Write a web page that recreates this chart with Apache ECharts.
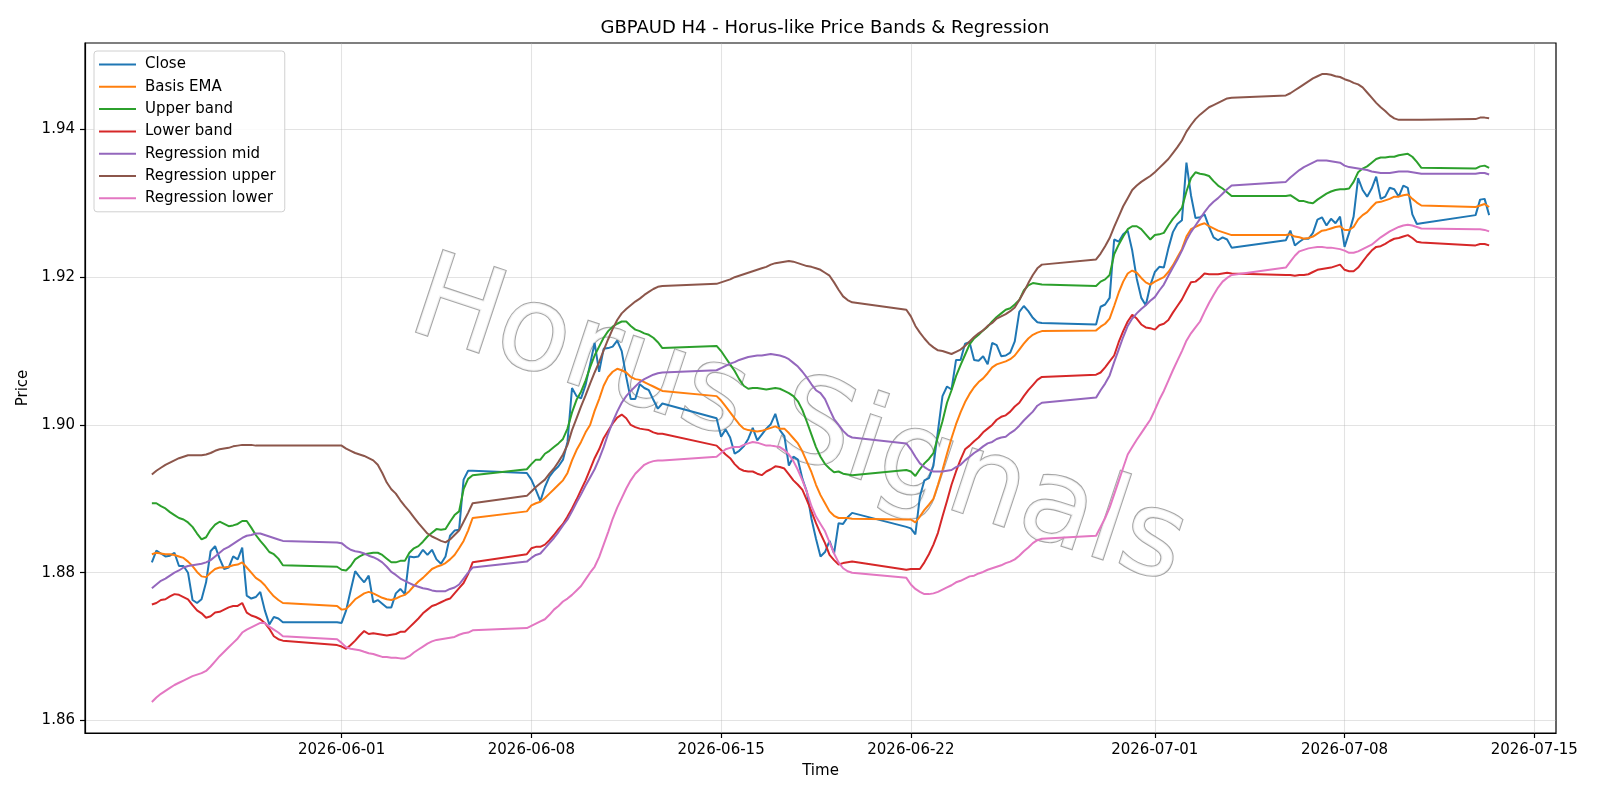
<!DOCTYPE html>
<html lang="en">
<head>
<meta charset="UTF-8">
<title>GBPAUD H4</title>
<style>
    html, body { margin: 0; padding: 0; background: #ffffff; }
    #chart_main { width: 1600px; height: 800px; }
</style>
</head>
<body>
<div id="chart_main"></div>
<script src="https://cdn.jsdelivr.net/npm/echarts@6/dist/echarts.min.js"></script>
<script>
// H4 bars: each week has a Sunday 20:00 bar (except the first one) then Mon 00:00 .. Fri 20:00
var weekMondays = ['2026-05-25', '2026-06-01', '2026-06-08', '2026-06-15', '2026-06-22', '2026-06-29', '2026-07-06', '2026-07-13'];
var barsPerWeek = [30, 30, 30, 30, 30, 30, 30, 3];

var tickDates = ['2026-06-01', '2026-06-08', '2026-06-15', '2026-06-22', '2026-07-01', '2026-07-08', '2026-07-15'];
var priceTicks = [1.86, 1.88, 1.90, 1.92, 1.94];

var close = [
    1.8814, 1.8830, 1.8826, 1.8822, 1.8823, 1.8827, 1.8809, 1.8809, 1.8800, 1.8763, 1.8759, 1.8764, 1.8787, 1.8829, 1.8836, 1.8819, 1.8805, 1.8807, 1.8822, 1.8818, 1.8834, 1.8769, 1.8765, 1.8767, 1.8774, 1.8749, 1.8730, 1.8740, 1.8738, 1.8733,
    1.8733, 1.8732, 1.8749, 1.8776, 1.8802, 1.8794, 1.8787, 1.8796, 1.8760, 1.8763, 1.8758, 1.8753, 1.8753, 1.8772, 1.8778, 1.8771, 1.8822, 1.8821, 1.8822, 1.8831, 1.8824, 1.8831, 1.8818, 1.8812, 1.8822, 1.8850, 1.8857, 1.8858, 1.8926, 1.8938, 1.8938,
    1.8935, 1.8926, 1.8912, 1.8897, 1.8916, 1.8930, 1.8938, 1.8944, 1.8953, 1.8977, 1.9050, 1.9039, 1.9036, 1.9054, 1.9082, 1.9111, 1.9072, 1.9103, 1.9104, 1.9106, 1.9114, 1.9100, 1.9065, 1.9035, 1.9035, 1.9055, 1.9050, 1.9047, 1.9034, 1.9022, 1.9029,
    1.9009, 1.8984, 1.8994, 1.8983, 1.8961, 1.8965, 1.8971, 1.8981, 1.8996, 1.8979, 1.8987, 1.8995, 1.9001, 1.9015, 1.8993, 1.8985, 1.8945, 1.8957, 1.8953, 1.8927, 1.8909, 1.8873, 1.8846, 1.8822, 1.8828, 1.8843, 1.8826, 1.8867, 1.8866, 1.8875, 1.8881,
    1.8862, 1.8860, 1.8852, 1.8903, 1.8925, 1.8928, 1.8945, 1.8992, 1.9039, 1.9052, 1.9048, 1.9088, 1.9088, 1.9110, 1.9112, 1.9088, 1.9087, 1.9093, 1.9082, 1.9111, 1.9108, 1.9093, 1.9094, 1.9098, 1.9113, 1.9153, 1.9161, 1.9154, 1.9145, 1.9139, 1.9138,
    1.9136, 1.9160, 1.9163, 1.9172, 1.9251, 1.9248, 1.9258, 1.9263, 1.9236, 1.9198, 1.9172, 1.9162, 1.9189, 1.9207, 1.9214, 1.9213, 1.9239, 1.9261, 1.9272, 1.9277, 1.9355, 1.9311, 1.9280, 1.9281, 1.9285, 1.9268, 1.9254, 1.9250, 1.9254, 1.9251, 1.9240,
    1.9250, 1.9263, 1.9243, 1.9248, 1.9252, 1.9252, 1.9260, 1.9278, 1.9281, 1.9270, 1.9279, 1.9273, 1.9282, 1.9241, 1.9260, 1.9282, 1.9334, 1.9318, 1.9309, 1.9320, 1.9336, 1.9306, 1.9309, 1.9321, 1.9319, 1.9309, 1.9324, 1.9321, 1.9285, 1.9272, 1.9273,
    1.9284, 1.9305, 1.9306, 1.9284
];

var basisEma = [
    1.8825, 1.8827, 1.8826, 1.8825, 1.8825, 1.8824, 1.8822, 1.8820, 1.8815, 1.8809, 1.8801, 1.8795, 1.8794, 1.8800, 1.8805, 1.8807, 1.8807, 1.8808, 1.8810, 1.8811, 1.8814, 1.8807, 1.8800, 1.8793, 1.8789, 1.8783, 1.8775, 1.8768, 1.8763, 1.8759,
    1.8755, 1.8750, 1.8751, 1.8757, 1.8764, 1.8768, 1.8772, 1.8774, 1.8772, 1.8769, 1.8766, 1.8764, 1.8763, 1.8765, 1.8768, 1.8770, 1.8775, 1.8782, 1.8788, 1.8793, 1.8799, 1.8805, 1.8808, 1.8810, 1.8813, 1.8818, 1.8824, 1.8833, 1.8843, 1.8857, 1.8874,
    1.8883, 1.8891, 1.8894, 1.8896, 1.8901, 1.8907, 1.8913, 1.8919, 1.8925, 1.8935, 1.8952, 1.8966, 1.8977, 1.8990, 1.9000, 1.9019, 1.9035, 1.9053, 1.9065, 1.9072, 1.9076, 1.9074, 1.9071, 1.9065, 1.9062, 1.9061, 1.9058, 1.9055, 1.9052, 1.9049, 1.9046,
    1.9039, 1.9033, 1.9025, 1.9017, 1.9009, 1.9001, 1.8995, 1.8993, 1.8992, 1.8991, 1.8992, 1.8994, 1.8996, 1.8998, 1.8995, 1.8995, 1.8989, 1.8982, 1.8975, 1.8964, 1.8950, 1.8936, 1.8919, 1.8905, 1.8894, 1.8883, 1.8877, 1.8874, 1.8874, 1.8874, 1.8873,
    1.8872, 1.8872, 1.8868, 1.8876, 1.8885, 1.8892, 1.8900, 1.8919, 1.8939, 1.8961, 1.8982, 1.9001, 1.9017, 1.9031, 1.9042, 1.9051, 1.9058, 1.9063, 1.9070, 1.9078, 1.9082, 1.9084, 1.9086, 1.9089, 1.9094, 1.9102, 1.9110, 1.9117, 1.9122, 1.9125, 1.9127,
    1.9128, 1.9133, 1.9137, 1.9144, 1.9161, 1.9179, 1.9194, 1.9205, 1.9209, 1.9206, 1.9199, 1.9193, 1.9190, 1.9194, 1.9197, 1.9200, 1.9207, 1.9216, 1.9227, 1.9238, 1.9255, 1.9265, 1.9268, 1.9271, 1.9273, 1.9269, 1.9266, 1.9263, 1.9261, 1.9259, 1.9257,
    1.9257, 1.9258, 1.9255, 1.9254, 1.9252, 1.9253, 1.9255, 1.9259, 1.9263, 1.9264, 1.9266, 1.9268, 1.9269, 1.9264, 1.9264, 1.9268, 1.9278, 1.9284, 1.9288, 1.9295, 1.9301, 1.9302, 1.9304, 1.9306, 1.9309, 1.9309, 1.9311, 1.9312, 1.9306, 1.9301, 1.9297,
    1.9295, 1.9297, 1.9299, 1.9295
];

var upperBand = [
    1.8894, 1.8894, 1.8890, 1.8887, 1.8882, 1.8878, 1.8874, 1.8872, 1.8868, 1.8862, 1.8853, 1.8845, 1.8848, 1.8858, 1.8865, 1.8869, 1.8866, 1.8863, 1.8864, 1.8866, 1.8870, 1.8870, 1.8861, 1.8851, 1.8843, 1.8836, 1.8828, 1.8825, 1.8819, 1.8810,
    1.8808, 1.8804, 1.8803, 1.8809, 1.8818, 1.8822, 1.8825, 1.8826, 1.8827, 1.8827, 1.8824, 1.8819, 1.8814, 1.8814, 1.8816, 1.8816, 1.8827, 1.8833, 1.8836, 1.8842, 1.8849, 1.8854, 1.8859, 1.8858, 1.8859, 1.8869, 1.8878, 1.8883, 1.8913, 1.8927, 1.8932,
    1.8940, 1.8947, 1.8953, 1.8953, 1.8961, 1.8965, 1.8970, 1.8975, 1.8981, 1.8995, 1.9017, 1.9034, 1.9045, 1.9060, 1.9078, 1.9094, 1.9106, 1.9118, 1.9127, 1.9133, 1.9137, 1.9140, 1.9140, 1.9134, 1.9129, 1.9127, 1.9124, 1.9122, 1.9118, 1.9112, 1.9104,
    1.9107, 1.9100, 1.9091, 1.9082, 1.9073, 1.9062, 1.9053, 1.9049, 1.9050, 1.9050, 1.9049, 1.9048, 1.9049, 1.9050, 1.9049, 1.9046, 1.9043, 1.9039, 1.9032, 1.9020, 1.9004, 1.8987, 1.8970, 1.8957, 1.8947, 1.8941, 1.8936, 1.8937, 1.8934, 1.8933, 1.8932,
    1.8939, 1.8937, 1.8931, 1.8940, 1.8948, 1.8954, 1.8962, 1.8984, 1.9005, 1.9030, 1.9047, 1.9066, 1.9081, 1.9095, 1.9109, 1.9117, 1.9122, 1.9128, 1.9133, 1.9140, 1.9146, 1.9151, 1.9156, 1.9158, 1.9163, 1.9169, 1.9182, 1.9189, 1.9192, 1.9191, 1.9190,
    1.9188, 1.9194, 1.9197, 1.9203, 1.9231, 1.9244, 1.9255, 1.9265, 1.9269, 1.9269, 1.9265, 1.9258, 1.9251, 1.9257, 1.9258, 1.9260, 1.9270, 1.9279, 1.9286, 1.9294, 1.9316, 1.9334, 1.9342, 1.9340, 1.9339, 1.9337, 1.9330, 1.9324, 1.9320, 1.9315, 1.9310,
    1.9310, 1.9311, 1.9307, 1.9303, 1.9303, 1.9301, 1.9300, 1.9305, 1.9309, 1.9313, 1.9316, 1.9318, 1.9319, 1.9319, 1.9320, 1.9329, 1.9342, 1.9347, 1.9350, 1.9355, 1.9360, 1.9362, 1.9362, 1.9363, 1.9363, 1.9365, 1.9366, 1.9367, 1.9363, 1.9356, 1.9348,
    1.9347, 1.9350, 1.9351, 1.9348
];

var lowerBand = [
    1.8757, 1.8759, 1.8763, 1.8764, 1.8768, 1.8771, 1.8770, 1.8767, 1.8764, 1.8756, 1.8749, 1.8745, 1.8739, 1.8741, 1.8746, 1.8747, 1.8750, 1.8753, 1.8755, 1.8755, 1.8759, 1.8746, 1.8742, 1.8740, 1.8737, 1.8732, 1.8724, 1.8714, 1.8710, 1.8708,
    1.8702, 1.8700, 1.8697, 1.8702, 1.8708, 1.8715, 1.8721, 1.8717, 1.8718, 1.8717, 1.8716, 1.8715, 1.8716, 1.8717, 1.8720, 1.8720, 1.8726, 1.8732, 1.8738, 1.8745, 1.8750, 1.8755, 1.8757, 1.8760, 1.8763, 1.8765, 1.8772, 1.8779, 1.8786, 1.8798, 1.8814,
    1.8825, 1.8833, 1.8835, 1.8835, 1.8838, 1.8844, 1.8851, 1.8859, 1.8866, 1.8876, 1.8887, 1.8899, 1.8912, 1.8925, 1.8940, 1.8955, 1.8967, 1.8982, 1.8992, 1.9002, 1.9010, 1.9014, 1.9009, 1.9000, 1.8997, 1.8995, 1.8994, 1.8993, 1.8990, 1.8988, 1.8988,
    1.8972, 1.8966, 1.8960, 1.8955, 1.8947, 1.8941, 1.8938, 1.8937, 1.8937, 1.8934, 1.8932, 1.8937, 1.8940, 1.8944, 1.8943, 1.8941, 1.8933, 1.8925, 1.8919, 1.8912, 1.8898, 1.8883, 1.8867, 1.8853, 1.8840, 1.8824, 1.8817, 1.8811, 1.8813, 1.8814, 1.8815,
    1.8804, 1.8805, 1.8805, 1.8805, 1.8814, 1.8825, 1.8838, 1.8854, 1.8876, 1.8897, 1.8919, 1.8937, 1.8953, 1.8967, 1.8972, 1.8978, 1.8983, 1.8990, 1.8995, 1.9000, 1.9007, 1.9011, 1.9013, 1.9018, 1.9025, 1.9030, 1.9039, 1.9047, 1.9054, 1.9061, 1.9065,
    1.9068, 1.9071, 1.9078, 1.9086, 1.9094, 1.9112, 1.9127, 1.9140, 1.9149, 1.9144, 1.9136, 1.9132, 1.9131, 1.9129, 1.9135, 1.9137, 1.9142, 1.9152, 1.9161, 1.9170, 1.9182, 1.9193, 1.9194, 1.9199, 1.9205, 1.9204, 1.9204, 1.9204, 1.9205, 1.9206, 1.9205,
    1.9203, 1.9203, 1.9202, 1.9203, 1.9203, 1.9204, 1.9207, 1.9210, 1.9211, 1.9212, 1.9213, 1.9215, 1.9217, 1.9210, 1.9208, 1.9208, 1.9213, 1.9221, 1.9229, 1.9236, 1.9241, 1.9242, 1.9245, 1.9249, 1.9252, 1.9253, 1.9255, 1.9257, 1.9253, 1.9248, 1.9247,
    1.9243, 1.9245, 1.9245, 1.9243
];

var regMid = [
    1.8779, 1.8784, 1.8789, 1.8792, 1.8796, 1.8800, 1.8803, 1.8807, 1.8809, 1.8810, 1.8811, 1.8812, 1.8814, 1.8817, 1.8822, 1.8827, 1.8832, 1.8835, 1.8839, 1.8843, 1.8847, 1.8850, 1.8851, 1.8853, 1.8853, 1.8851, 1.8849, 1.8847, 1.8845, 1.8843,
    1.8841, 1.8840, 1.8835, 1.8831, 1.8829, 1.8828, 1.8826, 1.8823, 1.8821, 1.8818, 1.8814, 1.8808, 1.8801, 1.8797, 1.8792, 1.8789, 1.8786, 1.8783, 1.8781, 1.8779, 1.8778, 1.8776, 1.8775, 1.8775, 1.8775, 1.8778, 1.8780, 1.8784, 1.8792, 1.8800, 1.8807,
    1.8815, 1.8820, 1.8824, 1.8826, 1.8833, 1.8840, 1.8847, 1.8855, 1.8864, 1.8872, 1.8883, 1.8895, 1.8906, 1.8918, 1.8929, 1.8940, 1.8954, 1.8970, 1.8988, 1.9004, 1.9018, 1.9030, 1.9039, 1.9046, 1.9052, 1.9058, 1.9062, 1.9065, 1.9068, 1.9070, 1.9071,
    1.9074, 1.9077, 1.9080, 1.9083, 1.9085, 1.9088, 1.9090, 1.9092, 1.9093, 1.9094, 1.9094, 1.9095, 1.9096, 1.9095, 1.9094, 1.9092, 1.9089, 1.9084, 1.9079, 1.9072, 1.9064, 1.9055, 1.9047, 1.9043, 1.9035, 1.9021, 1.9008, 1.9000, 1.8992, 1.8986, 1.8983,
    1.8975, 1.8967, 1.8957, 1.8948, 1.8943, 1.8939, 1.8937, 1.8937, 1.8937, 1.8938, 1.8939, 1.8943, 1.8946, 1.8952, 1.8957, 1.8962, 1.8966, 1.8971, 1.8975, 1.8977, 1.8981, 1.8983, 1.8984, 1.8989, 1.8993, 1.8999, 1.9006, 1.9012, 1.9018, 1.9026, 1.9030,
    1.9037, 1.9047, 1.9056, 1.9067, 1.9085, 1.9102, 1.9119, 1.9134, 1.9144, 1.9151, 1.9157, 1.9162, 1.9168, 1.9173, 1.9182, 1.9190, 1.9202, 1.9213, 1.9224, 1.9236, 1.9250, 1.9261, 1.9270, 1.9279, 1.9288, 1.9296, 1.9302, 1.9307, 1.9313, 1.9319, 1.9324,
    1.9329, 1.9335, 1.9340, 1.9345, 1.9349, 1.9352, 1.9355, 1.9358, 1.9358, 1.9358, 1.9357, 1.9356, 1.9355, 1.9351, 1.9349, 1.9348, 1.9347, 1.9346, 1.9345, 1.9343, 1.9342, 1.9341, 1.9341, 1.9341, 1.9342, 1.9343, 1.9343, 1.9343, 1.9342, 1.9341, 1.9340,
    1.9340, 1.9341, 1.9341, 1.9339
];

var regUpper = [
    1.8933, 1.8938, 1.8942, 1.8946, 1.8949, 1.8952, 1.8955, 1.8957, 1.8959, 1.8959, 1.8959, 1.8959, 1.8960, 1.8962, 1.8965, 1.8967, 1.8968, 1.8969, 1.8971, 1.8972, 1.8973, 1.8973, 1.8973, 1.8972, 1.8972, 1.8972, 1.8972, 1.8972, 1.8972, 1.8972,
    1.8972, 1.8972, 1.8968, 1.8965, 1.8962, 1.8960, 1.8958, 1.8955, 1.8952, 1.8946, 1.8935, 1.8922, 1.8913, 1.8907, 1.8898, 1.8890, 1.8883, 1.8875, 1.8867, 1.8860, 1.8853, 1.8849, 1.8846, 1.8843, 1.8841, 1.8845, 1.8851, 1.8857, 1.8869, 1.8881, 1.8894,
    1.8904, 1.8910, 1.8916, 1.8921, 1.8926, 1.8934, 1.8941, 1.8950, 1.8960, 1.8973, 1.8993, 1.9009, 1.9025, 1.9040, 1.9056, 1.9071, 1.9085, 1.9101, 1.9116, 1.9130, 1.9142, 1.9151, 1.9157, 1.9162, 1.9167, 1.9171, 1.9176, 1.9180, 1.9184, 1.9187, 1.9188,
    1.9191, 1.9193, 1.9195, 1.9197, 1.9200, 1.9202, 1.9204, 1.9206, 1.9208, 1.9210, 1.9212, 1.9214, 1.9217, 1.9219, 1.9220, 1.9221, 1.9222, 1.9221, 1.9219, 1.9217, 1.9215, 1.9214, 1.9212, 1.9210, 1.9206, 1.9202, 1.9193, 1.9183, 1.9174, 1.9169, 1.9166,
    1.9156, 1.9147, 1.9134, 1.9125, 1.9117, 1.9110, 1.9105, 1.9101, 1.9100, 1.9098, 1.9096, 1.9099, 1.9102, 1.9107, 1.9113, 1.9119, 1.9124, 1.9128, 1.9134, 1.9138, 1.9144, 1.9147, 1.9150, 1.9154, 1.9159, 1.9169, 1.9180, 1.9192, 1.9203, 1.9212, 1.9217,
    1.9224, 1.9232, 1.9242, 1.9253, 1.9268, 1.9282, 1.9296, 1.9307, 1.9318, 1.9324, 1.9329, 1.9333, 1.9337, 1.9342, 1.9348, 1.9354, 1.9360, 1.9368, 1.9376, 1.9385, 1.9397, 1.9406, 1.9414, 1.9420, 1.9425, 1.9430, 1.9433, 1.9436, 1.9439, 1.9442, 1.9443,
    1.9446, 1.9449, 1.9453, 1.9457, 1.9461, 1.9465, 1.9469, 1.9472, 1.9475, 1.9475, 1.9474, 1.9472, 1.9471, 1.9468, 1.9466, 1.9463, 1.9461, 1.9457, 1.9450, 1.9443, 1.9436, 1.9430, 1.9425, 1.9419, 1.9415, 1.9413, 1.9413, 1.9413, 1.9413, 1.9413, 1.9413,
    1.9414, 1.9416, 1.9416, 1.9415
];

var regLower = [
    1.8625, 1.8631, 1.8636, 1.8640, 1.8644, 1.8648, 1.8651, 1.8654, 1.8657, 1.8660, 1.8662, 1.8664, 1.8667, 1.8673, 1.8680, 1.8687, 1.8693, 1.8699, 1.8705, 1.8711, 1.8719, 1.8723, 1.8726, 1.8729, 1.8732, 1.8732, 1.8727, 1.8723, 1.8719, 1.8714,
    1.8710, 1.8705, 1.8699, 1.8697, 1.8696, 1.8695, 1.8693, 1.8691, 1.8690, 1.8688, 1.8686, 1.8686, 1.8685, 1.8685, 1.8684, 1.8684, 1.8687, 1.8692, 1.8696, 1.8700, 1.8704, 1.8707, 1.8709, 1.8710, 1.8711, 1.8712, 1.8713, 1.8716, 1.8718, 1.8719, 1.8722,
    1.8725, 1.8728, 1.8731, 1.8734, 1.8737, 1.8743, 1.8750, 1.8755, 1.8761, 1.8765, 1.8770, 1.8776, 1.8782, 1.8791, 1.8800, 1.8808, 1.8821, 1.8838, 1.8855, 1.8873, 1.8888, 1.8901, 1.8914, 1.8925, 1.8934, 1.8940, 1.8946, 1.8949, 1.8951, 1.8952, 1.8952,
    1.8957, 1.8962, 1.8967, 1.8969, 1.8970, 1.8970, 1.8973, 1.8975, 1.8977, 1.8976, 1.8974, 1.8972, 1.8972, 1.8971, 1.8970, 1.8966, 1.8960, 1.8951, 1.8939, 1.8925, 1.8909, 1.8890, 1.8876, 1.8866, 1.8856, 1.8841, 1.8826, 1.8814, 1.8806, 1.8802, 1.8800,
    1.8793, 1.8784, 1.8778, 1.8774, 1.8771, 1.8771, 1.8772, 1.8774, 1.8777, 1.8780, 1.8783, 1.8787, 1.8789, 1.8792, 1.8795, 1.8796, 1.8799, 1.8801, 1.8804, 1.8806, 1.8808, 1.8810, 1.8813, 1.8815, 1.8818, 1.8823, 1.8829, 1.8834, 1.8840, 1.8844, 1.8846,
    1.8850, 1.8862, 1.8874, 1.8888, 1.8906, 1.8924, 1.8942, 1.8960, 1.8970, 1.8980, 1.8989, 1.8998, 1.9007, 1.9020, 1.9034, 1.9046, 1.9060, 1.9074, 1.9087, 1.9100, 1.9114, 1.9124, 1.9132, 1.9140, 1.9153, 1.9165, 1.9176, 1.9186, 1.9194, 1.9199, 1.9203,
    1.9213, 1.9221, 1.9229, 1.9235, 1.9237, 1.9239, 1.9240, 1.9241, 1.9241, 1.9240, 1.9240, 1.9239, 1.9238, 1.9236, 1.9233, 1.9233, 1.9235, 1.9238, 1.9241, 1.9244, 1.9249, 1.9254, 1.9258, 1.9262, 1.9265, 1.9268, 1.9270, 1.9271, 1.9270, 1.9268, 1.9266,
    1.9265, 1.9265, 1.9264, 1.9262
];

var seriesNames = ['Close', 'Basis EMA', 'Upper band', 'Lower band', 'Regression mid', 'Regression upper', 'Regression lower'];
var seriesColors = ['#1f77b4', '#ff7f0e', '#2ca02c', '#d62728', '#9467bd', '#8c564b', '#e377c2'];

(function () {
    var HOUR = 3600 * 1000;

    function dayStart(s) {
        var p = s.split('-');
        return new Date(+p[0], +p[1] - 1, +p[2]).getTime();
    }

    function buildTimes() {
        var out = [];
        for (var w = 0; w < weekMondays.length; w++) {
            var mon = dayStart(weekMondays[w]);
            if (w > 0) out.push(mon - 4 * HOUR);   // Sunday 20:00 open bar
            for (var i = 0; i < barsPerWeek[w]; i++) out.push(mon + i * 4 * HOUR);
        }
        return out;
    }

    function pad(n) { return n < 10 ? '0' + n : '' + n; }

    var times = buildTimes();
    var allValues = [close, basisEma, upperBand, lowerBand, regMid, regUpper, regLower];

    var series = [];
    for (var s = 0; s < seriesNames.length; s++) {
        var vals = allValues[s];
        var pts = [];
        for (var k = 0; k < times.length; k++) pts.push([times[k], vals[k]]);
        series.push({
            name: seriesNames[s],
            type: 'line',
            data: pts,
            showSymbol: false,
            symbol: 'none',
            color: seriesColors[s],
            lineStyle: { width: 2, color: seriesColors[s] },
            z: 3 + s
        });
    }

    var font = 'DejaVu Sans';
    var xMin = dayStart('2026-05-22') + 12.8 * HOUR;
    var xMax = dayStart('2026-07-15') + 19.2 * HOUR;
    var xTicks = tickDates.map(dayStart);

    var chart = echarts.init(document.getElementById('chart_main'));
    chart.setOption({
        animation: false,
        backgroundColor: '#ffffff',
        title: {
            text: 'GBPAUD H4 - Horus-like Price Bands & Regression',
            left: 820,
            top: 14,
            textAlign: 'center',
            textStyle: { fontFamily: font, fontSize: 18, fontWeight: 'normal', color: '#000000' }
        },
        legend: {
            orient: 'vertical',
            left: 94,
            top: 51,
            icon: 'rect',
            itemWidth: 37,
            itemHeight: 2,
            itemGap: 7.3,
            padding: [6, 9, 6, 5],
            backgroundColor: 'rgba(255,255,255,0.85)',
            borderColor: '#d0d0d0',
            borderWidth: 1,
            borderRadius: 3,
            textStyle: { fontFamily: font, fontSize: 15, lineHeight: 15, color: '#000000', padding: [0, 0, 0, 4] },
            data: seriesNames
        },
        grid: {
            left: 85,
            right: 44,
            top: 43,
            bottom: 67,
            show: true,
            borderColor: '#000000',
            borderWidth: 1.2,
            backgroundColor: 'transparent'
        },
        graphic: [{
            type: 'text',
            x: 798,
            y: 426,
            rotation: -0.32,
            silent: true,
            z: 1,
            style: {
                text: 'Horus Signals',
                font: '118px "DejaVu Sans"',
                align: 'center',
                verticalAlign: 'middle',
                fill: 'rgba(255,255,255,0.85)',
                stroke: 'rgba(150,150,150,0.85)',
                lineWidth: 2.2,
                shadowColor: 'rgba(0,0,0,0.35)',
                shadowOffsetX: -4,
                shadowOffsetY: 4,
                shadowBlur: 4
            }
        }],
        xAxis: {
            type: 'value',
            min: xMin,
            max: xMax,
            name: 'Time',
            nameLocation: 'middle',
            nameGap: 31,
            nameTextStyle: { fontFamily: font, fontSize: 15, color: '#000000' },
            axisLine: { show: true, lineStyle: { color: '#000000', width: 1.2 } },
            axisTick: { show: true, length: 5, lineStyle: { color: '#000000', width: 1.2 }, customValues: xTicks },
            axisLabel: {
                fontFamily: font, fontSize: 15, color: '#000000', margin: 10,
                customValues: xTicks,
                formatter: function (v) {
                    var d = new Date(v);
                    return d.getFullYear() + '-' + pad(d.getMonth() + 1) + '-' + pad(d.getDate());
                }
            },
            splitLine: { show: true, lineStyle: { color: 'rgba(176,176,176,0.35)', width: 1.1 } }
        },
        yAxis: {
            type: 'value',
            min: 1.8583,
            max: 1.9517,
            name: 'Price',
            nameLocation: 'middle',
            nameGap: 46,
            nameTextStyle: { fontFamily: font, fontSize: 15, color: '#000000' },
            axisLine: { show: true, lineStyle: { color: '#000000', width: 1.2 } },
            axisTick: { show: true, length: 5, lineStyle: { color: '#000000', width: 1.2 }, customValues: priceTicks },
            axisLabel: {
                fontFamily: font, fontSize: 15, color: '#000000', margin: 10,
                customValues: priceTicks,
                formatter: function (v) { return v.toFixed(2); }
            },
            splitLine: { show: true, lineStyle: { color: 'rgba(176,176,176,0.35)', width: 1.1 } }
        },
        series: series
    });
})();
</script>
</body>
</html>
